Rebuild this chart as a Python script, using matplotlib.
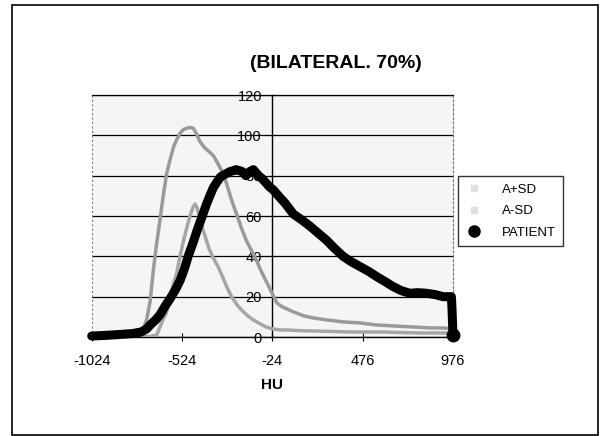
import matplotlib
matplotlib.use('Agg')
import matplotlib.pyplot as plt
from matplotlib.lines import Line2D
from matplotlib.patches import Rectangle

plt.rcParams['font.family'] = ['Liberation Sans', 'DejaVu Sans']
plt.rcParams['axes.unicode_minus'] = False

# ---------------- data ----------------
hu_patient = [-1024, -950, -880, -800, -750, -720, -700, -670, -646, -620, -590, -560,
              -535, -510, -490, -462, -440, -420, -400, -388, -370, -351, -330, -310,
              -300, -280, -260, -240, -225, -205, -190, -170, -150, -129, -110, -100,
              -80, -55, -40, -19, 10, 50, 92, 140, 184, 230, 276, 320, 368, 410, 460,
              510, 553, 600, 645, 690, 737, 780, 829, 880, 921, 950, 967, 970, 973, 976]
patient = [0.5, 0.8, 1.2, 1.7, 2.5, 4, 6, 8.5, 11, 15, 19, 23.5,
           28, 34, 40, 47, 53, 58, 63, 66, 70, 74, 77, 79.5,
           80, 81, 82, 82.5, 83, 82.5, 82, 80, 82, 83, 81, 80,
           78.5, 76, 74.5, 73, 70, 66, 61, 58, 55, 51.5, 48, 44, 40, 37.5, 35,
           32.5, 30, 27.5, 25, 23, 21.7, 22, 21.7, 21, 20, 20, 20, 15, 8, 1]

hu_plus = [-1024, -900, -820, -780, -750, -735, -720, -700, -683, -665, -646, -628,
           -609, -590, -572, -553, -535, -515, -498, -480, -462, -445, -425, -400,
           -375, -351, -325, -296, -277, -250, -222, -195, -166, -140, -111, -93,
           -60, -21, 0, 30, 55, 92, 150, 200, 276, 370, 460, 550, 645, 750, 850, 921, 976]
a_plus_sd = [0, 0, 0.5, 1.5, 3, 5, 8.5, 18, 33, 46, 58, 70,
             81, 88, 94, 98, 101, 103, 103.5, 104, 103.5, 101, 97, 94,
             92, 90, 86, 81, 76, 68, 61, 54, 47.5, 43, 38, 34,
             28, 21, 17, 15, 14, 12.5, 10.5, 9.5, 8.5, 7.5, 7, 6, 5.5, 5, 4.5, 4.5, 4]

hu_minus = [-1024, -800, -700, -664, -646, -628, -610, -591, -573, -555, -535, -515,
            -498, -480, -465, -452, -440, -425, -400, -375, -350, -325, -300, -277,
            -250, -220, -190, -160, -130, -100, -60, -20, 18, 60, 120, 200, 300, 400,
            500, 600, 700, 800, 900, 976]
a_minus_sd = [0, 0, 0.3, 1, 5, 9, 12, 20, 26, 31, 40, 48,
              54, 60, 64, 66, 64, 58, 51, 44, 39, 35, 30, 25,
              20, 16, 13, 10.5, 8.5, 7, 5, 4, 3.5, 3.5, 3.2, 3, 2.8, 2.5,
              2.5, 2.5, 2.2, 2, 2, 2]

x_ticks = [-1024, -524, -24, 476, 976]
y_ticks = [0, 20, 40, 60, 80, 100, 120]
legend_labels = ['A+SD', 'A-SD', 'PATIENT']
title = '(BILATERAL. 70%)'
x_label = 'HU'

# ---------------- figure ----------------
fig = plt.figure(figsize=(6, 4.36), dpi=100)
ax = fig.add_axes([0.1528, 0.227, 0.6022, 0.555])
ax.set_facecolor('#f5f5f5')

ax.plot(hu_plus, a_plus_sd, color='#9a9a9a', lw=2.5, zorder=3)
ax.plot(hu_minus, a_minus_sd, color='#a6a6a6', lw=2.5, zorder=3)
ax.plot(hu_patient, patient, color='black', lw=6.5, solid_capstyle='round',
        zorder=4, clip_on=False)
ax.plot([hu_patient[-1]], [patient[-1]], marker='o', ms=9, color='black',
        clip_on=False, zorder=5)

ax.set_xlim(x_ticks[0], x_ticks[-1])
ax.set_ylim(y_ticks[0], y_ticks[-1])
ax.set_xticks(x_ticks)
ax.set_yticks(y_ticks)
ax.tick_params(axis='x', direction='inout', length=6, width=0.8, pad=9, labelsize=10.5)
ax.tick_params(axis='y', direction='inout', length=5, width=0.8, pad=5, labelsize=10.5)

ax.spines['left'].set_position(('data', -24))
ax.spines['left'].set_linewidth(1.0)
ax.spines['bottom'].set_linewidth(1.0)
ax.spines['top'].set_linewidth(0.9)
ax.spines['right'].set_color('#777777')
ax.spines['right'].set_linestyle((0, (2, 2)))
ax.spines['right'].set_linewidth(0.8)
ax.axvline(x_ticks[0], color='#777777', lw=0.8, ls=(0, (2, 2)), zorder=1)

ax.yaxis.grid(True, color='black', lw=0.9)
ax.set_axisbelow(True)

handles = [Line2D([], [], color='#e0e0e0', marker='s', ms=4, lw=0),
           Line2D([], [], color='#e0e0e0', marker='s', ms=4, lw=0),
           Line2D([], [], color='black', marker='o', ms=8, lw=0)]
leg = fig.legend(handles, legend_labels, loc='upper left',
                 bbox_to_anchor=(0.763, 0.596), frameon=True, fancybox=False,
                 edgecolor='black', fontsize=9.5, handlelength=1.4,
                 handletextpad=1.4, borderpad=0.55, labelspacing=0.72,
                 borderaxespad=0)
leg.get_frame().set_linewidth(1.0)

fig.text(0.56, 0.855, title, ha='center', va='center', fontsize=14,
         fontweight='bold')
fig.text(272 / 600, 1 - 385 / 436, x_label, ha='center', va='center',
         fontsize=11, fontweight='bold')

fig.add_artist(Rectangle((0.02, 0.0023), 0.9767, 0.9862, transform=fig.transFigure,
                         fill=False, ec='black', lw=1.2))

fig.savefig('out.png', dpi=100)
